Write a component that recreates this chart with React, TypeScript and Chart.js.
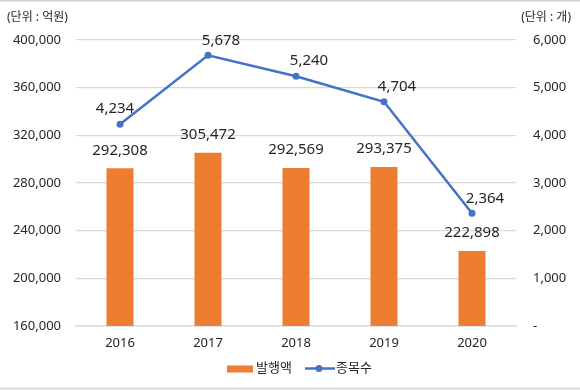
import React, { useEffect, useRef } from "react";
import { Chart, registerables } from "chart.js";

Chart.register(...registerables);

const years = ["2016", "2017", "2018", "2019", "2020"];
const issueAmount = [292308, 305472, 292569, 293375, 222898]; // 발행액 (억원)
const issueCount = [4234, 5678, 5240, 4704, 2364]; // 종목수 (개)
const leftTicks = [160000, 200000, 240000, 280000, 320000, 360000, 400000];
const rightTicks = [0, 1000, 2000, 3000, 4000, 5000, 6000];
const seriesNames = ["발행액", "종목수"];
const unitLeft = "(단위 : 억원)";
const unitRight = "(단위 : 개)";

const ORANGE = "#ED7D31";
const BLUE = "#4472C4";
const GRID = "#d9d9d9";
const TEXT = "#262626";
const FONT = "'Noto Sans', 'Noto Sans CJK KR', sans-serif";

const fmt = (v: number) => v.toLocaleString("en-US");

const labelsPlugin = {
  id: "customLabels",
  afterDatasetsDraw(chart: any) {
    const ctx = chart.ctx;
    ctx.save();
    ctx.fillStyle = TEXT;
    ctx.font = `15px ${FONT}`;
    ctx.textAlign = "center";
    ctx.textBaseline = "middle";
    const barMeta = chart.getDatasetMeta(0);
    barMeta.data.forEach((el: any, i: number) => {
      ctx.fillText(fmt(issueAmount[i]), el.x, el.y - 18);
    });
    const lineMeta = chart.getDatasetMeta(1);
    lineMeta.data.forEach((el: any, i: number) => {
      const dx = i === 0 ? -5 : 13;
      ctx.fillText(fmt(issueCount[i]), el.x + dx, el.y - 15);
    });
    ctx.restore();
  },
  afterDraw(chart: any) {
    const ctx = chart.ctx;
    const w = chart.width;
    ctx.save();
    // frame lines
    ctx.strokeStyle = "#d0d0d0";
    ctx.lineWidth = 1.5;
    ctx.beginPath();
    ctx.moveTo(0, 0.75);
    ctx.lineTo(w, 0.75);
    ctx.moveTo(0, 388.5);
    ctx.lineTo(w, 388.5);
    ctx.stroke();
    // unit labels
    ctx.fillStyle = TEXT;
    ctx.font = `12px ${FONT}`;
    ctx.textBaseline = "middle";
    ctx.textAlign = "left";
    ctx.fillText(unitLeft, 7, 18);
    ctx.textAlign = "right";
    ctx.fillText(unitRight, 571, 18);
    // legend
    const ly = 368.5;
    ctx.fillStyle = ORANGE;
    ctx.fillRect(227, ly - 3, 26, 7);
    ctx.fillStyle = TEXT;
    ctx.font = `13px ${FONT}`;
    ctx.textAlign = "left";
    ctx.fillText(seriesNames[0], 256, ly);
    ctx.strokeStyle = BLUE;
    ctx.lineWidth = 2.5;
    ctx.beginPath();
    ctx.moveTo(305, ly);
    ctx.lineTo(335, ly);
    ctx.stroke();
    ctx.fillStyle = BLUE;
    ctx.beginPath();
    ctx.arc(319, ly, 3.5, 0, Math.PI * 2);
    ctx.fill();
    ctx.fillStyle = TEXT;
    ctx.fillText(seriesNames[1], 336, ly);
    ctx.restore();
  },
};

export default function App() {
  const ref = useRef<HTMLCanvasElement | null>(null);
  useEffect(() => {
    if (!ref.current) return;
    const chart = new Chart(ref.current, {
      type: "bar",
      data: {
        labels: years,
        datasets: [
          {
            type: "bar",
            label: seriesNames[0],
            data: issueAmount,
            backgroundColor: ORANGE,
            yAxisID: "y",
            categoryPercentage: 1,
            barPercentage: 0.307,
            order: 2,
          },
          {
            type: "line",
            label: seriesNames[1],
            data: issueCount,
            borderColor: BLUE,
            backgroundColor: BLUE,
            borderWidth: 2.5,
            pointRadius: 3.5,
            pointBackgroundColor: BLUE,
            pointBorderWidth: 0,
            yAxisID: "y1",
            order: 1,
            tension: 0,
          },
        ] as any,
      },
      options: {
        responsive: false,
        animation: false,
        layout: { padding: { top: 40, left: 0, right: 0, bottom: 0 } },
        plugins: { legend: { display: false }, tooltip: { enabled: false } },
        scales: {
          x: {
            grid: { display: false, drawTicks: false },
            border: { display: true, color: GRID, width: 1.5 },
            ticks: { color: TEXT, font: { size: 13, family: FONT }, padding: 9 },
            afterFit: (s: any) => {
              s.height = 64;
            },
          },
          y: {
            position: "left",
            min: leftTicks[0],
            max: leftTicks[leftTicks.length - 1],
            afterBuildTicks: (s: any) => {
              s.ticks = leftTicks.map((v) => ({ value: v }));
            },
            grid: { color: GRID, lineWidth: 1.2, drawTicks: false },
            border: { display: false },
            ticks: {
              color: TEXT,
              font: { size: 13, family: FONT },
              padding: 15,
              callback: (v: any) => fmt(Number(v)),
            },
            afterFit: (s: any) => {
              s.width = 76;
            },
          },
          y1: {
            position: "right",
            min: rightTicks[0],
            max: rightTicks[rightTicks.length - 1],
            afterBuildTicks: (s: any) => {
              s.ticks = rightTicks.map((v) => ({ value: v }));
            },
            grid: { display: false, drawTicks: false },
            border: { display: false },
            ticks: {
              color: TEXT,
              font: { size: 13, family: FONT },
              padding: 17,
              callback: (v: any) => (Number(v) === 0 ? "-" : fmt(Number(v))),
            },
            afterFit: (s: any) => {
              s.width = 64;
            },
          },
        },
      },
      plugins: [labelsPlugin],
    });
    return () => chart.destroy();
  }, []);
  return (
    <div style={{ position: "fixed", left: 0, top: 0, width: 580, height: 390, background: "#fff" }}>
      <canvas ref={ref} width={580} height={390} />
    </div>
  );
}
